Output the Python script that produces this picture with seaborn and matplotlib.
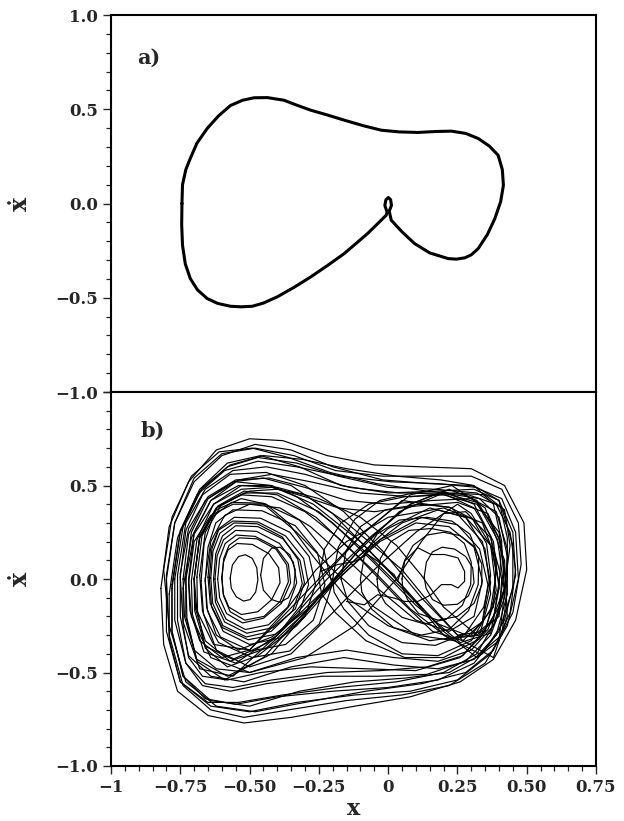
import numpy as np
import pandas as pd
import matplotlib
matplotlib.use("Agg")
import matplotlib.pyplot as plt
from matplotlib.ticker import MultipleLocator
import seaborn as sns

# ---------------- data ----------------
x_ticks = [-1.0, -0.75, -0.5, -0.25, 0.0, 0.25, 0.5, 0.75]
x_tick_labels = ["\u22121", "\u22120.75", "\u22120.50", "\u22120.25", "0", "0.25", "0.50", "0.75"]
y_ticks = [-1.0, -0.5, 0.0, 0.5, 1.0]
y_tick_labels_a = ["\u22121.0", "\u22120.5", "0.0", "0.5", "1.0"]
y_tick_labels_b = ["\u22121.0", "\u22120.5", "0.0", "0.5", ""]

# panel a : periodic orbit
a_x = [-0.744, -0.742, -0.730, -0.714, -0.690, -0.653, -0.612, -0.569, -0.525, -0.484,
       -0.436, -0.376, -0.330, -0.279, -0.220, -0.158, -0.090, -0.025, 0.040, 0.108,
       0.170, 0.228, 0.280, 0.325, 0.365, 0.397, 0.412, 0.416, 0.406, 0.385,
       0.358, 0.325, 0.300, 0.277, 0.246, 0.216, 0.150, 0.095, 0.050, 0.011,
       0.004, 0.012, 0.009, 0.001, -0.008, -0.012, -0.004, -0.007, -0.040, -0.074,
       -0.158, -0.220, -0.279, -0.340, -0.400, -0.450, -0.490, -0.530, -0.569, -0.615,
       -0.653, -0.688, -0.714, -0.732, -0.742, -0.745, -0.744]
a_y = [0.000, 0.100, 0.180, 0.239, 0.320, 0.398, 0.465, 0.520, 0.548, 0.561,
       0.562, 0.548, 0.522, 0.495, 0.470, 0.442, 0.413, 0.389, 0.380, 0.377,
       0.382, 0.384, 0.372, 0.345, 0.305, 0.256, 0.180, 0.097, 0.010, -0.080,
       -0.165, -0.239, -0.272, -0.288, -0.295, -0.292, -0.262, -0.212, -0.150, -0.088,
       -0.040, -0.010, 0.020, 0.032, 0.020, -0.010, -0.045, -0.062, -0.110, -0.159,
       -0.265, -0.330, -0.389, -0.445, -0.495, -0.528, -0.545, -0.548, -0.545, -0.530,
       -0.504, -0.458, -0.398, -0.320, -0.221, -0.110, 0.000]

# panel b : chaotic trajectory, read as separate loops
outer_loops = [
    ([-0.82, -0.79, -0.72, -0.62, -0.50, -0.38, -0.22, -0.05, 0.12, 0.30, 0.42, 0.49, 0.50, 0.46, 0.38, 0.26, 0.08, -0.12, -0.35, -0.52, -0.65, -0.76, -0.81],
     [-0.05, 0.28, 0.52, 0.69, 0.75, 0.74, 0.66, 0.61, 0.60, 0.59, 0.50, 0.30, 0.05, -0.22, -0.43, -0.55, -0.63, -0.68, -0.74, -0.77, -0.73, -0.60, -0.35]),
    ([-0.80, -0.77, -0.70, -0.60, -0.48, -0.35, -0.20, -0.02, 0.15, 0.30, 0.41, 0.46, 0.47, 0.43, 0.35, 0.22, 0.05, -0.15, -0.36, -0.52, -0.64, -0.74, -0.79],
     [0.00, 0.30, 0.52, 0.66, 0.72, 0.69, 0.60, 0.53, 0.51, 0.50, 0.43, 0.25, 0.00, -0.25, -0.45, -0.57, -0.62, -0.65, -0.70, -0.74, -0.70, -0.57, -0.30]),
    ([-0.78, -0.75, -0.68, -0.58, -0.47, -0.33, -0.18, 0.00, 0.17, 0.32, 0.41, 0.45, 0.45, 0.40, 0.31, 0.18, 0.00, -0.20, -0.40, -0.55, -0.66, -0.74, -0.78],
     [-0.05, 0.25, 0.47, 0.60, 0.65, 0.62, 0.55, 0.49, 0.48, 0.46, 0.38, 0.18, -0.05, -0.28, -0.45, -0.54, -0.58, -0.60, -0.63, -0.67, -0.64, -0.52, -0.28]),
    ([-0.76, -0.73, -0.66, -0.56, -0.44, -0.30, -0.14, 0.04, 0.20, 0.33, 0.40, 0.43, 0.42, 0.37, 0.28, 0.14, -0.04, -0.24, -0.44, -0.57, -0.67, -0.73, -0.76],
     [0.02, 0.30, 0.48, 0.58, 0.60, 0.56, 0.49, 0.46, 0.46, 0.43, 0.33, 0.12, -0.10, -0.30, -0.44, -0.51, -0.52, -0.52, -0.56, -0.60, -0.57, -0.45, -0.22]),
    ([-0.74, -0.71, -0.64, -0.54, -0.42, -0.28, -0.10, 0.08, 0.24, 0.35, 0.42, 0.44, 0.42, 0.36, 0.26, 0.10, -0.08, -0.28, -0.46, -0.58, -0.67, -0.72, -0.74],
     [-0.05, 0.22, 0.42, 0.53, 0.56, 0.52, 0.46, 0.44, 0.46, 0.45, 0.37, 0.18, -0.05, -0.27, -0.42, -0.49, -0.48, -0.47, -0.50, -0.54, -0.52, -0.42, -0.25]),
    ([-0.81, -0.78, -0.71, -0.61, -0.49, -0.36, -0.21, -0.04, 0.14, 0.29, 0.39, 0.44, 0.46, 0.44, 0.38, 0.28, 0.12, -0.08, -0.30, -0.48, -0.62, -0.73, -0.79],
     [0.05, 0.33, 0.55, 0.68, 0.70, 0.65, 0.57, 0.51, 0.47, 0.45, 0.40, 0.25, 0.05, -0.18, -0.38, -0.50, -0.56, -0.60, -0.66, -0.71, -0.68, -0.55, -0.25]),
    ([-0.79, -0.76, -0.69, -0.59, -0.47, -0.33, -0.17, 0.01, 0.18, 0.32, 0.40, 0.43, 0.43, 0.39, 0.32, 0.20, 0.03, -0.18, -0.38, -0.54, -0.65, -0.75, -0.79],
     [-0.08, 0.22, 0.45, 0.58, 0.63, 0.60, 0.55, 0.52, 0.51, 0.49, 0.42, 0.22, 0.00, -0.22, -0.40, -0.50, -0.55, -0.58, -0.62, -0.66, -0.66, -0.55, -0.32]),
    ([-0.77, -0.74, -0.67, -0.57, -0.45, -0.31, -0.15, 0.03, 0.19, 0.31, 0.38, 0.41, 0.40, 0.35, 0.27, 0.14, -0.03, -0.22, -0.42, -0.56, -0.66, -0.73, -0.77],
     [0.00, 0.28, 0.49, 0.61, 0.66, 0.64, 0.59, 0.55, 0.53, 0.50, 0.40, 0.20, -0.05, -0.27, -0.41, -0.47, -0.49, -0.50, -0.54, -0.58, -0.56, -0.45, -0.22]),
    ([-0.73, -0.70, -0.63, -0.53, -0.42, -0.30, -0.18, -0.05, 0.10, 0.25, 0.36, 0.41, 0.42, 0.38, 0.30, 0.18, 0.02, -0.15, -0.33, -0.50, -0.62, -0.70, -0.73],
     [0.00, 0.24, 0.40, 0.48, 0.49, 0.44, 0.38, 0.36, 0.39, 0.41, 0.35, 0.18, -0.05, -0.25, -0.38, -0.44, -0.42, -0.38, -0.42, -0.50, -0.48, -0.38, -0.20]),
    ([-0.75, -0.72, -0.65, -0.55, -0.43, -0.30, -0.15, 0.00, 0.16, 0.30, 0.39, 0.43, 0.43, 0.39, 0.31, 0.18, 0.02, -0.16, -0.35, -0.52, -0.64, -0.72, -0.75],
     [0.03, 0.27, 0.44, 0.53, 0.54, 0.49, 0.42, 0.40, 0.42, 0.43, 0.36, 0.16, -0.08, -0.30, -0.43, -0.48, -0.46, -0.42, -0.47, -0.55, -0.52, -0.41, -0.20]),
    ([-0.78, -0.75, -0.68, -0.58, -0.46, -0.32, -0.17, 0.00, 0.17, 0.31, 0.40, 0.45, 0.46, 0.42, 0.34, 0.22, 0.06, -0.12, -0.32, -0.50, -0.64, -0.74, -0.78],
     [-0.03, 0.26, 0.48, 0.62, 0.66, 0.60, 0.50, 0.46, 0.47, 0.48, 0.42, 0.25, 0.02, -0.22, -0.40, -0.50, -0.53, -0.55, -0.60, -0.68, -0.65, -0.52, -0.28]),
    ([-0.80, -0.77, -0.70, -0.60, -0.48, -0.34, -0.19, -0.02, 0.15, 0.30, 0.41, 0.47, 0.48, 0.45, 0.37, 0.25, 0.08, -0.12, -0.33, -0.50, -0.64, -0.75, -0.80],
     [0.02, 0.30, 0.54, 0.67, 0.70, 0.66, 0.58, 0.55, 0.55, 0.55, 0.48, 0.30, 0.08, -0.18, -0.40, -0.54, -0.60, -0.62, -0.66, -0.71, -0.68, -0.55, -0.28]),
]

left_well_loops = [
    ([-0.570, -0.562, -0.540, -0.515, -0.490, -0.474, -0.470, -0.478, -0.498, -0.522, -0.548, -0.566],
     [0.005, 0.075, 0.120, 0.130, 0.110, 0.060, -0.005, -0.070, -0.110, -0.118, -0.095, -0.050]),
    ([-0.460, -0.450, -0.420, -0.390, -0.355, -0.335, -0.340, -0.360, -0.390, -0.420, -0.450],
     [0.020, 0.110, 0.165, 0.170, 0.130, 0.050, -0.040, -0.100, -0.125, -0.110, -0.060]),
    ([-0.600, -0.594, -0.578, -0.545, -0.490, -0.430, -0.395, -0.390, -0.420, -0.470, -0.530, -0.575, -0.595],
     [0.000, 0.090, 0.155, 0.190, 0.185, 0.135, 0.060, -0.020, -0.110, -0.175, -0.190, -0.150, -0.080]),
    ([-0.615, -0.608, -0.588, -0.548, -0.480, -0.405, -0.360, -0.352, -0.385, -0.450, -0.525, -0.583, -0.608],
     [0.000, 0.110, 0.190, 0.235, 0.228, 0.170, 0.080, -0.020, -0.130, -0.210, -0.235, -0.185, -0.100]),
    ([-0.630, -0.622, -0.598, -0.550, -0.470, -0.380, -0.318, -0.302, -0.335, -0.415, -0.510, -0.590, -0.623],
     [0.000, 0.135, 0.230, 0.285, 0.280, 0.215, 0.100, -0.020, -0.160, -0.260, -0.290, -0.230, -0.125]),
    ([-0.645, -0.636, -0.610, -0.555, -0.460, -0.355, -0.285, -0.262, -0.300, -0.390, -0.500, -0.595, -0.637],
     [0.000, 0.160, 0.270, 0.330, 0.325, 0.250, 0.120, -0.030, -0.200, -0.315, -0.350, -0.280, -0.150]),
    ([-0.660, -0.650, -0.622, -0.560, -0.455, -0.335, -0.255, -0.228, -0.270, -0.370, -0.495, -0.605, -0.652],
     [-0.010, 0.170, 0.300, 0.370, 0.365, 0.285, 0.140, -0.030, -0.220, -0.350, -0.385, -0.310, -0.170]),
    ([-0.650, -0.641, -0.614, -0.560, -0.470, -0.370, -0.305, -0.287, -0.322, -0.405, -0.505, -0.598, -0.642],
     [0.010, 0.160, 0.260, 0.310, 0.305, 0.230, 0.110, -0.030, -0.185, -0.295, -0.325, -0.260, -0.130]),
    ([-0.625, -0.617, -0.594, -0.550, -0.475, -0.392, -0.342, -0.330, -0.362, -0.432, -0.515, -0.585, -0.618],
     [0.000, 0.125, 0.210, 0.260, 0.255, 0.190, 0.090, -0.020, -0.150, -0.245, -0.270, -0.215, -0.115]),
    ([-0.675, -0.664, -0.632, -0.565, -0.450, -0.320, -0.232, -0.202, -0.248, -0.355, -0.490, -0.612, -0.666],
     [-0.010, 0.190, 0.335, 0.410, 0.405, 0.315, 0.155, -0.030, -0.240, -0.385, -0.420, -0.340, -0.190]),
    ([-0.640, -0.632, -0.607, -0.556, -0.472, -0.382, -0.326, -0.310, -0.345, -0.422, -0.512, -0.596, -0.633],
     [0.005, 0.150, 0.245, 0.300, 0.295, 0.225, 0.105, -0.025, -0.170, -0.280, -0.310, -0.250, -0.130]),
    ([-0.600, -0.593, -0.574, -0.537, -0.474, -0.405, -0.366, -0.360, -0.390, -0.448, -0.517, -0.570, -0.594],
     [0.010, 0.110, 0.180, 0.220, 0.215, 0.160, 0.075, -0.015, -0.120, -0.200, -0.220, -0.175, -0.090]),
]

right_well_loops = [
    ([-0.100, -0.085, -0.040, 0.040, 0.140, 0.230, 0.295, 0.327, 0.325, 0.290, 0.220, 0.120, 0.020, -0.060, -0.095],
     [0.000, 0.130, 0.240, 0.315, 0.330, 0.310, 0.240, 0.120, -0.030, -0.170, -0.270, -0.300, -0.260, -0.160, -0.070]),
    ([-0.040, -0.028, 0.010, 0.075, 0.155, 0.225, 0.275, 0.300, 0.298, 0.268, 0.210, 0.130, 0.050, -0.010, -0.036],
     [0.000, 0.110, 0.200, 0.260, 0.270, 0.250, 0.190, 0.090, -0.030, -0.140, -0.215, -0.240, -0.205, -0.130, -0.060]),
    ([0.130, 0.138, 0.160, 0.195, 0.240, 0.280, 0.305, 0.310, 0.290, 0.250, 0.200, 0.160, 0.137],
     [0.010, 0.090, 0.145, 0.170, 0.160, 0.120, 0.060, -0.020, -0.090, -0.135, -0.140, -0.110, -0.050]),
    ([-0.170, -0.152, -0.100, -0.010, 0.110, 0.220, 0.305, 0.355, 0.370, 0.345, 0.280, 0.170, 0.050, -0.070, -0.145],
     [0.000, 0.150, 0.280, 0.370, 0.400, 0.385, 0.320, 0.190, 0.020, -0.150, -0.290, -0.355, -0.340, -0.250, -0.120]),
    ([0.050, 0.060, 0.090, 0.140, 0.200, 0.260, 0.310, 0.338, 0.338, 0.310, 0.250, 0.180, 0.110, 0.070, 0.053],
     [0.000, 0.100, 0.180, 0.235, 0.250, 0.232, 0.175, 0.080, -0.030, -0.130, -0.200, -0.220, -0.185, -0.110, -0.050]),
    ([-0.250, -0.230, -0.170, -0.070, 0.060, 0.200, 0.320, 0.400, 0.420, 0.400, 0.330, 0.200, 0.060, -0.080, -0.190, -0.240],
     [0.000, 0.160, 0.300, 0.400, 0.440, 0.450, 0.400, 0.250, 0.050, -0.150, -0.320, -0.420, -0.420, -0.330, -0.180, -0.080]),
    ([-0.200, -0.180, -0.120, -0.030, 0.090, 0.210, 0.310, 0.370, 0.390, 0.370, 0.300, 0.180, 0.050, -0.070, -0.160, -0.195],
     [0.000, 0.170, 0.320, 0.420, 0.460, 0.450, 0.380, 0.230, 0.030, -0.160, -0.330, -0.410, -0.400, -0.300, -0.160, -0.070]),
]

figure_eight_loops = [
    ([-0.700, -0.680, -0.620, -0.520, -0.400, -0.250, -0.100, 0.050, 0.180, 0.300, 0.380, 0.400, 0.370, 0.280, 0.150, 0.000, -0.150, -0.300, -0.440, -0.570, -0.660, -0.695],
     [0.000, 0.220, 0.380, 0.460, 0.460, 0.360, 0.170, -0.050, -0.240, -0.310, -0.220, -0.020, 0.180, 0.330, 0.380, 0.270, 0.060, -0.180, -0.370, -0.440, -0.330, -0.160]),
    ([-0.680, -0.660, -0.600, -0.500, -0.400, -0.300, -0.150, 0.050, 0.160, 0.250, 0.350, 0.390, 0.370, 0.300, 0.250, 0.100, -0.050, -0.200, -0.350, -0.500, -0.620, -0.670],
     [0.020, 0.250, 0.400, 0.470, 0.480, 0.450, 0.300, 0.050, -0.150, -0.300, -0.280, -0.060, 0.180, 0.350, 0.400, 0.250, 0.050, -0.180, -0.400, -0.470, -0.380, -0.170]),
    ([-0.720, -0.700, -0.640, -0.560, -0.450, -0.330, -0.200, -0.050, 0.100, 0.240, 0.340, 0.370, 0.340, 0.230, 0.050, -0.100, -0.250, -0.380, -0.500, -0.600, -0.680, -0.715],
     [-0.020, 0.200, 0.340, 0.400, 0.400, 0.250, 0.050, -0.150, -0.300, -0.330, -0.230, -0.020, 0.200, 0.380, 0.420, 0.230, 0.000, -0.200, -0.380, -0.420, -0.330, -0.170]),
    ([-0.740, -0.720, -0.660, -0.560, -0.450, -0.350, -0.200, 0.000, 0.200, 0.330, 0.410, 0.430, 0.400, 0.320, 0.220, 0.080, -0.080, -0.250, -0.420, -0.580, -0.690, -0.735],
     [0.000, 0.240, 0.420, 0.520, 0.540, 0.500, 0.350, 0.050, -0.300, -0.400, -0.300, -0.060, 0.220, 0.420, 0.480, 0.400, 0.200, -0.100, -0.400, -0.520, -0.430, -0.200]),
    ([-0.690, -0.672, -0.615, -0.520, -0.400, -0.260, -0.110, 0.040, 0.160, 0.270, 0.340, 0.360, 0.330, 0.250, 0.120, -0.030, -0.180, -0.330, -0.470, -0.580, -0.660, -0.688],
     [0.010, 0.230, 0.390, 0.470, 0.450, 0.330, 0.120, -0.110, -0.280, -0.330, -0.230, -0.030, 0.160, 0.290, 0.330, 0.210, 0.000, -0.250, -0.410, -0.470, -0.370, -0.170]),
    ([-0.710, -0.690, -0.630, -0.530, -0.430, -0.330, -0.200, -0.060, 0.100, 0.260, 0.370, 0.400, 0.380, 0.310, 0.200, 0.080, -0.060, -0.220, -0.400, -0.550, -0.665, -0.706],
     [-0.010, 0.210, 0.400, 0.500, 0.500, 0.440, 0.300, 0.100, -0.140, -0.340, -0.290, -0.050, 0.200, 0.400, 0.470, 0.400, 0.230, 0.000, -0.300, -0.450, -0.390, -0.190]),
    ([-0.700, -0.680, -0.620, -0.530, -0.420, -0.300, -0.180, -0.050, 0.080, 0.220, 0.330, 0.370, 0.350, 0.280, 0.180, 0.050, -0.100, -0.260, -0.420, -0.560, -0.660, -0.698],
     [0.000, 0.230, 0.380, 0.450, 0.440, 0.360, 0.220, 0.040, -0.160, -0.320, -0.300, -0.080, 0.160, 0.330, 0.370, 0.300, 0.130, -0.100, -0.330, -0.430, -0.360, -0.170]),
    ([-0.730, -0.710, -0.650, -0.550, -0.420, -0.270, -0.100, 0.060, 0.200, 0.320, 0.400, 0.420, 0.395, 0.320, 0.200, 0.040, -0.120, -0.290, -0.450, -0.590, -0.690, -0.726],
     [0.010, 0.250, 0.430, 0.520, 0.500, 0.400, 0.200, -0.050, -0.280, -0.420, -0.330, -0.070, 0.210, 0.410, 0.460, 0.360, 0.130, -0.160, -0.420, -0.540, -0.440, -0.210]),
    ([-0.700, -0.680, -0.620, -0.530, -0.440, -0.360, -0.270, -0.150, 0.000, 0.150, 0.300, 0.380, 0.390, 0.340, 0.200, 0.000, -0.150, -0.260, -0.360, -0.500, -0.630, -0.690],
     [0.000, 0.220, 0.370, 0.430, 0.400, 0.300, 0.120, -0.100, -0.250, -0.330, -0.300, -0.150, 0.100, 0.300, 0.380, 0.330, 0.200, 0.050, -0.150, -0.380, -0.350, -0.170]),
    ([-0.720, -0.700, -0.640, -0.540, -0.400, -0.250, -0.100, 0.030, 0.120, 0.200, 0.320, 0.400, 0.410, 0.370, 0.280, 0.200, 0.120, 0.030, -0.120, -0.300, -0.500, -0.640, -0.710],
     [0.000, 0.250, 0.420, 0.500, 0.490, 0.430, 0.330, 0.180, 0.020, -0.150, -0.300, -0.200, 0.000, 0.220, 0.360, 0.350, 0.200, 0.000, -0.250, -0.420, -0.500, -0.420, -0.200]),
    ([-0.660, -0.640, -0.590, -0.500, -0.390, -0.280, -0.160, -0.030, 0.100, 0.220, 0.310, 0.340, 0.310, 0.220, 0.100, -0.030, -0.160, -0.290, -0.420, -0.540, -0.620, -0.655],
     [0.000, 0.200, 0.340, 0.400, 0.380, 0.280, 0.120, -0.060, -0.220, -0.280, -0.200, -0.010, 0.170, 0.280, 0.300, 0.200, 0.030, -0.160, -0.310, -0.380, -0.300, -0.150]),
    ([-0.750, -0.730, -0.670, -0.570, -0.440, -0.300, -0.160, -0.020, 0.120, 0.270, 0.380, 0.430, 0.420, 0.350, 0.230, 0.080, -0.080, -0.240, -0.400, -0.560, -0.680, -0.740],
     [0.010, 0.260, 0.450, 0.560, 0.570, 0.500, 0.360, 0.150, -0.100, -0.330, -0.420, -0.200, 0.100, 0.380, 0.500, 0.450, 0.260, 0.000, -0.300, -0.520, -0.480, -0.230]),
]

wiggly_x = [-0.243, -0.183, -0.120, -0.074, -0.038, 0.022, 0.034, 0.059, 0.107, 0.155, 0.204, 0.252,
            0.276, 0.276, 0.252, 0.228, 0.192, 0.155, 0.107, 0.059, 0.022, -0.038, -0.086, -0.150]
wiggly_y = [0.041, 0.077, 0.095, 0.131, 0.095, 0.023, -0.012, 0.095, 0.167, 0.131, 0.131, 0.113,
            0.041, -0.012, -0.048, -0.030, -0.030, -0.084, -0.120, -0.120, -0.102, -0.084, -0.138, -0.120]

# ---------------- build tables ----------------
rows = []
loop_id = 0
for group in (outer_loops, left_well_loops, right_well_loops, figure_eight_loops):
    for xs, ys in group:
        xs_c = list(xs) + [xs[0]]
        ys_c = list(ys) + [ys[0]]
        for i, (xv, yv) in enumerate(zip(xs_c, ys_c)):
            rows.append((loop_id, i, xv, yv))
        loop_id += 1
for i, (xv, yv) in enumerate(zip(wiggly_x, wiggly_y)):
    rows.append((loop_id, i, xv, yv))
df_b = pd.DataFrame(rows, columns=["loop", "order", "x", "y"])
df_a = pd.DataFrame({"x": a_x, "y": a_y, "order": range(len(a_x))})

# ---------------- style ----------------
sns.set_style("ticks")
plt.rcParams["font.family"] = ["DejaVu Serif"]
plt.rcParams["font.weight"] = "bold"
plt.rcParams["mathtext.fontset"] = "dejavuserif"
plt.rcParams["axes.linewidth"] = 1.5

fig = plt.figure(figsize=(6.24, 8.21), dpi=100)
ax_a = fig.add_axes([0.1779, 0.5225, 0.7772, 0.4592])
ax_b = fig.add_axes([0.1779, 0.0670, 0.7772, 0.4555])

sns.lineplot(data=df_a, x="x", y="y", sort=False, estimator=None, color="black",
             lw=2.2, ax=ax_a, legend=False)
sns.lineplot(data=df_b, x="x", y="y", units="loop", sort=False, estimator=None,
             color="black", lw=0.85, ax=ax_b, legend=False)

for ax, ylabels in ((ax_a, y_tick_labels_a), (ax_b, y_tick_labels_b)):
    ax.set_xlim(-1.0, 0.75)
    ax.set_ylim(-1.0, 1.0)
    ax.set_xticks(x_ticks)
    ax.set_xticklabels(x_tick_labels)
    ax.set_yticks(y_ticks)
    ax.set_yticklabels(ylabels)
    ax.xaxis.set_minor_locator(MultipleLocator(0.05))
    ax.yaxis.set_minor_locator(MultipleLocator(0.1))
    ax.tick_params(which="major", direction="out", length=6, width=1.0, labelsize=12,
                   right=False, top=False)
    ax.tick_params(which="minor", direction="out", length=3.5, width=0.9, right=False, top=False)
    for s in ax.spines.values():
        s.set_visible(True)
        s.set_linewidth(1.5)
        s.set_color("black")
    for lab in ax.get_xticklabels() + ax.get_yticklabels():
        lab.set_fontweight("bold")
    ax.set_ylabel(r"$\dot{\mathbf{x}}$", fontsize=17, rotation=90)
    ax.yaxis.set_label_coords(-0.160, 0.5)
    ax.set_facecolor("white")

ax_a.tick_params(axis="x", which="both", bottom=False, labelbottom=False)
ax_a.set_xlabel("")
ax_b.set_xlabel("x", fontsize=16, fontweight="bold")
ax_b.xaxis.set_label_coords(0.5, -0.085)

ax_a.text(0.054, 0.886, "a)", transform=ax_a.transAxes, fontsize=15, fontweight="bold",
          va="center", ha="left")
ax_b.text(0.060, 0.896, "b)", transform=ax_b.transAxes, fontsize=15, fontweight="bold",
          va="center", ha="left")

fig.savefig("out.png", dpi=100, facecolor="white")
